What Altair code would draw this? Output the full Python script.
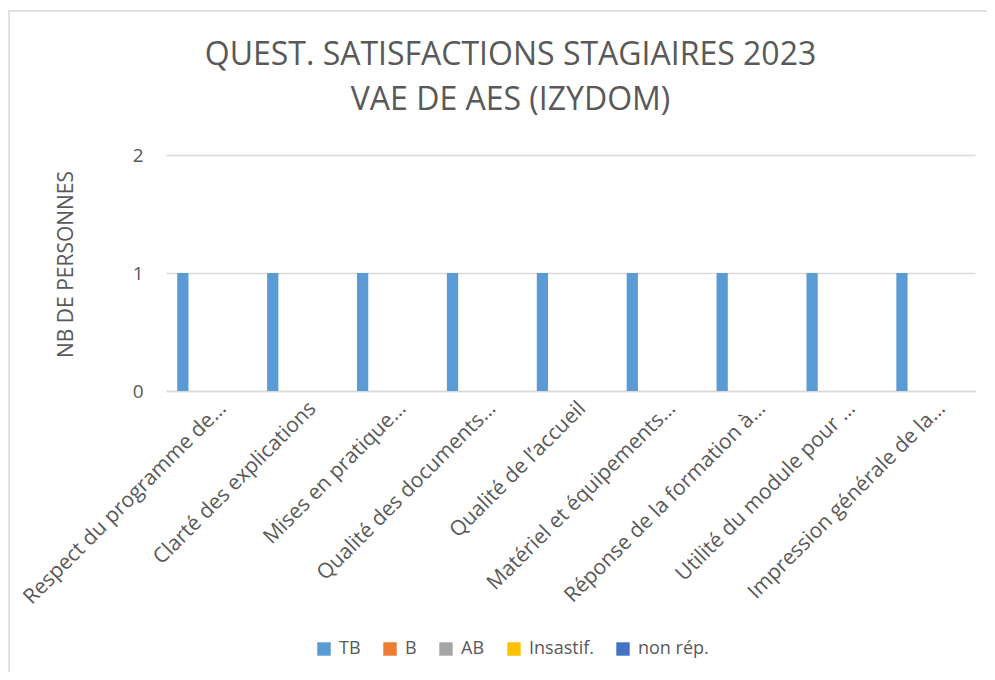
import altair as alt
import pandas as pd

categories = [
    "Respect du programme de…",
    "Clarté des explications",
    "Mises en pratique…",
    "Qualité des documents…",
    "Qualité de l’accueil",
    "Matériel et équipements…",
    "Réponse de la formation à…",
    "Utilité du module pour …",
    "Impression générale de la…",
]
series = ["TB", "B", "AB", "Insastif.", "non rép."]
colors = ["#5B9BD5", "#ED7D31", "#A5A5A5", "#FFC000", "#4472C4"]
values = {
    "TB":        [1, 1, 1, 1, 1, 1, 1, 1, 1],
    "B":         [0, 0, 0, 0, 0, 0, 0, 0, 0],
    "AB":        [0, 0, 0, 0, 0, 0, 0, 0, 0],
    "Insastif.": [0, 0, 0, 0, 0, 0, 0, 0, 0],
    "non rép.":  [0, 0, 0, 0, 0, 0, 0, 0, 0],
}
title_lines = ["QUEST. SATISFACTIONS STAGIAIRES 2023", "VAE DE AES (IZYDOM)"]
y_title = "NB DE PERSONNES"
y_ticks = [0, 1, 2]

# slots within each category group (empty slots give the cluster gap)
offset_slots = ["_gapL"] + series + ["_gapR1", "_gapR2"]

rows = []
for s in series:
    for c, v in zip(categories, values[s]):
        rows.append({"cat": c, "serie": s, "val": v})
df = pd.DataFrame(rows)

FONT = "Open Sans"
GREY = "#595959"

bars = alt.Chart(df).mark_bar().encode(
    x=alt.X("cat:N", sort=categories, title=None,
            scale=alt.Scale(paddingInner=0, paddingOuter=0),
            axis=alt.Axis(labelAngle=-45, labelAlign="right", labelBaseline="middle",
                          labelFontSize=21, labelColor=GREY, labelFont=FONT,
                          labelPadding=14, labelOffset=12, ticks=False, domain=True,
                          domainColor="#d9d9d9", domainWidth=1.5, grid=False,
                          labelLimit=400)),
    xOffset=alt.XOffset("serie:N",
                        scale=alt.Scale(domain=offset_slots, paddingInner=0, paddingOuter=0)),
    y=alt.Y("val:Q", scale=alt.Scale(domain=[0, 2], nice=False),
            axis=alt.Axis(values=y_ticks, labelExpr="format(datum.value, '.0f')",
                          title=y_title,
                          titleFont=FONT, titleFontSize=21, titleFontWeight="normal",
                          titleColor=GREY, titleAngle=270, titleX=-100, titleY=109,
                          titleAlign="center", titleBaseline="middle",
                          labelFontSize=19, labelColor=GREY, labelFont=FONT,
                          labelPadding=23, labelOverlap=False, ticks=False, domain=False,
                          grid=True, gridColor="#d9d9d9", gridWidth=1.3)),
    color=alt.Color("serie:N", sort=series,
                    scale=alt.Scale(domain=series, range=colors),
                    legend=alt.Legend(title=None, orient="none", direction="horizontal",
                                      legendX=149, legendY=485,
                                      symbolType="square", symbolSize=180,
                                      symbolStrokeWidth=0, labelFontSize=18,
                                      labelFont=FONT, labelColor=GREY,
                                      columnPadding=20, labelOffset=6)),
)

frame = alt.Chart(pd.DataFrame({"k": [0]})).mark_rect(
    fillOpacity=0, stroke="#d9d9d9", strokeWidth=1.5
).encode(
    x=alt.value(-157), x2=alt.value(840), y=alt.value(-144), y2=alt.value(560)
)

chart = alt.layer(frame, bars).properties(
    width=809, height=236,
    background="white",
    autosize=alt.AutoSizeParams(type="none"),
    padding={"left": 158, "top": 147, "right": 12, "bottom": 281},
    title=alt.TitleParams(text=title_lines, font=FONT, fontSize=32,
                          fontWeight="normal", color=GREY, anchor="middle",
                          dx=-60, dy=144, offset=37, lineHeight=45),
).configure_view(strokeWidth=0)

chart.save("out.html", embed_options={"renderer": "svg", "actions": False})
